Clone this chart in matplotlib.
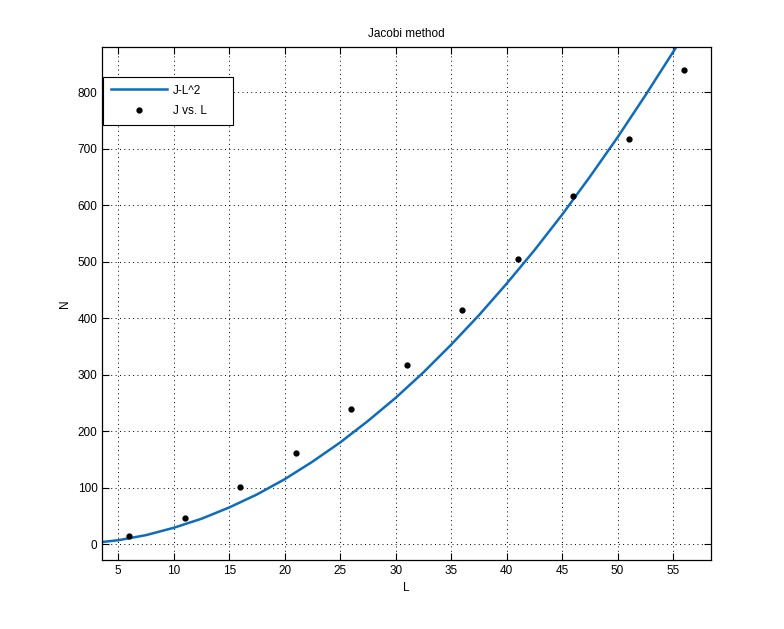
import matplotlib
matplotlib.use("Agg")
import matplotlib.pyplot as plt

# measured points
L_pts = [6, 11, 16, 21, 26, 31, 36, 41, 46, 51, 56]
J_pts = [14, 47, 102, 161, 240, 317, 414, 504, 617, 717, 839]

# fitted curve
L_fit = [3.6, 5, 7.5, 10, 12.5, 15, 17.5, 20, 22.5, 25, 27.5, 30,
         32.5, 35, 37.5, 40, 42.5, 45, 47.5, 50, 52.5, 55.3]
J_fit = [4, 7, 16, 29, 45, 65, 88, 115, 146, 180, 218, 259,
         304, 353, 405, 461, 520, 583, 650, 720, 794, 880]

plt.rcParams["font.family"] = ["Liberation Sans", "DejaVu Sans"]
plt.rcParams["font.size"] = 8.5

fig = plt.figure(figsize=(7.84, 6.29), dpi=100)
ax = fig.add_axes([0.1305, 0.1097, 0.776, 0.8156])

ln, = ax.plot(L_fit, J_fit, "-", color="#0f6cbd", lw=1.8)
pts, = ax.plot(L_pts, J_pts, "o", color="black", ms=3.5, ls="none")

ax.set_xlim(3.56, 58.4)
ax.set_ylim(-28, 880)
ax.set_xticks(range(5, 60, 5))
ax.set_yticks(range(0, 900, 100))
ax.grid(True, ls=(0, (1, 3.5)), color="black", lw=0.7)
ax.tick_params(direction="in", top=True, right=True, length=5, width=0.8)
for s in ax.spines.values():
    s.set_linewidth(0.9)

ax.set_title("Jacobi method", fontsize=8.5, pad=7)
ax.set_xlabel("L", labelpad=4)
ax.set_ylabel("N", labelpad=5)

leg = ax.legend([ln, pts], ["J-L^2", "J vs. L      "],
                loc="upper left", bbox_to_anchor=(0.0016, 0.941),
                fancybox=False, framealpha=1, edgecolor="black",
                borderaxespad=0, handlelength=4.8, borderpad=0.62,
                labelspacing=0.75, handletextpad=0.45)
leg.get_frame().set_linewidth(0.8)

fig.savefig("out.png", dpi=100)
